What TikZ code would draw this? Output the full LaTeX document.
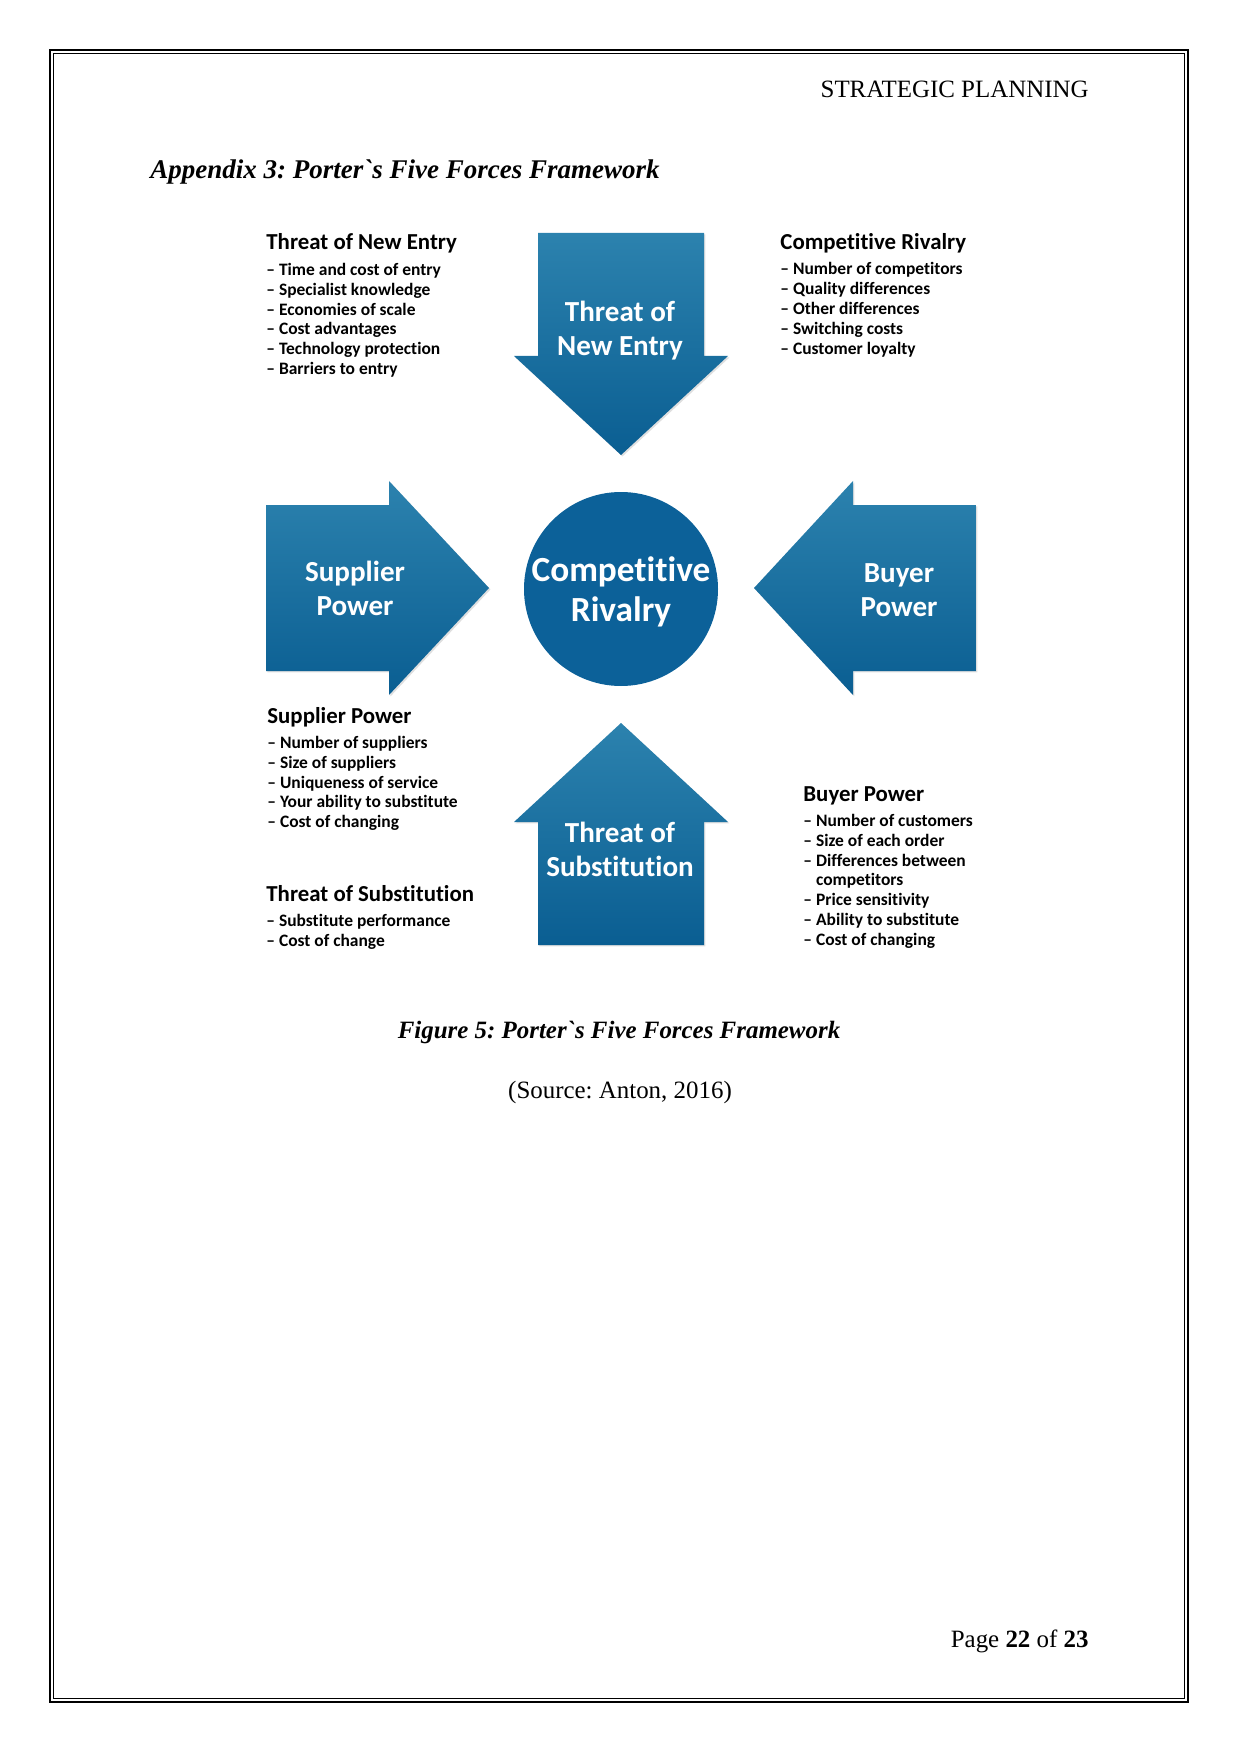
\documentclass[tikz,border=0pt]{standalone}
\usepackage{fontspec}
\setmainfont{Liberation Serif}
\newfontfamily\forcefont[RawFeature={-liga;-clig;-calt;-dlig}]{Carlito}
\usetikzlibrary{shadows}
\frenchspacing

\definecolor{forcetop}{RGB}{44,130,174}
\definecolor{forcebot}{RGB}{10,94,146}
\definecolor{rivalblue}{RGB}{12,97,153}

\tikzset{
  force/.style={top color=forcetop, bottom color=forcebot, draw=none,
    drop shadow={shadow xshift=0.7pt, shadow yshift=-0.7pt, opacity=0.25}},
  forcetext/.style={text=white, align=center, inner sep=0pt,
    font=\forcefont\bfseries\fontsize{14}{16.3}\selectfont},
  listhead/.style={anchor=west, inner sep=0pt,
    font=\forcefont\bfseries\fontsize{11}{13}\selectfont},
  listitems/.style={anchor=north west, inner sep=0pt, align=left,
    font=\forcefont\bfseries\fontsize{8.4}{9.6}\selectfont},
  pagetext/.style={inner sep=0pt, font=\fontsize{12}{14}\selectfont}
}

\begin{document}
\begin{tikzpicture}[x=0.1692mm, y=-0.1692mm]

\useasboundingbox (0,0) rectangle (1241,1754);

% page frame
\draw[line width=0.9pt] (50,50) rectangle (1188,1702);
\draw[line width=0.5pt] (53.5,53.5) rectangle (1184.5,1698.5);

\node[pagetext, anchor=base east] (header) at (1089,98) {STRATEGIC PLANNING};
\node[pagetext, anchor=base west, font=\fontsize{13}{15}\selectfont] (appendix) at (150,179)
  {\bfseries\itshape Appendix 3: Porter\textasciigrave s Five Forces Framework};

% the four arrows
\path[force] (538,233) -- (704,233) -- (704,356) -- (728,356) -- (621,455)
  -- (514,356) -- (538,356) -- cycle;
\path[force] (266,505) -- (389,505) -- (389,481) -- (489,588) -- (389,695)
  -- (389,671) -- (266,671) -- cycle;
\path[force] (976,505) -- (853,505) -- (853,481) -- (754,588) -- (853,695)
  -- (853,671) -- (976,671) -- cycle;
\path[force] (621,723) -- (728,822) -- (704,822) -- (704,945) -- (538,945)
  -- (538,822) -- (514,822) -- cycle;

% centre
\fill[rivalblue] (621,589) circle (97);

\node[forcetext] (entry) at (620,331) {Threat of\\New Entry};
\node[forcetext] (supplier) at (355,588) {Supplier\\Power};
\node[forcetext] (buyer) at (899,590) {Buyer\\Power};
\node[forcetext] (substitution) at (620,849) {Threat of\\Substitution};
\node[forcetext, font=\forcefont\bfseries\fontsize{17}{19.2}\selectfont]
  (rivalry) at (621,592) {Competitive\\Rivalry};

% lists
\node[listhead] (entryhead) at (266,243) {Threat of New Entry};
\node[listitems] (entrylist) at (266,262.5) {– Time and cost of entry\\
  – Specialist knowledge\\– Economies of scale\\– Cost advantages\\
  – Technology protection\\– Barriers to entry};

\node[listhead] (rivalhead) at (780,243) {Competitive Rivalry};
\node[listitems] (rivallist) at (780,262) {– Number of competitors\\
  – Quality differences\\– Other differences\\– Switching costs\\
  – Customer loyalty};

\node[listhead] (supplierhead) at (267,717) {Supplier Power};
\node[listitems] (supplierlist) at (267,735.5) {– Number of suppliers\\
  – Size of suppliers\\– Uniqueness of service\\
  – Your ability to substitute\\– Cost of changing};

\node[listhead] (subshead) at (266,894) {Threat of Substitution};
\node[listitems] (subslist) at (266,913.5) {– Substitute performance\\
  – Cost of change};

\node[listhead] (buyerhead) at (803,796) {Buyer Power};
\node[listitems] (buyerlist) at (803,813.5) {– Number of customers\\
  – Size of each order\\– Differences between\\\phantom{– }competitors\\
  – Price sensitivity\\– Ability to substitute\\– Cost of changing};

\node[pagetext, anchor=base] (caption) at (619,1038)
  {\bfseries\itshape Figure 5: Porter\textasciigrave s Five Forces Framework};
\node[pagetext, anchor=base] (source) at (620,1098) {(Source: Anton, 2016)};

\node[pagetext, anchor=base east] (pageno) at (1089,1647)
  {Page \textbf{22} of \textbf{23}};

\end{tikzpicture}
\end{document}
